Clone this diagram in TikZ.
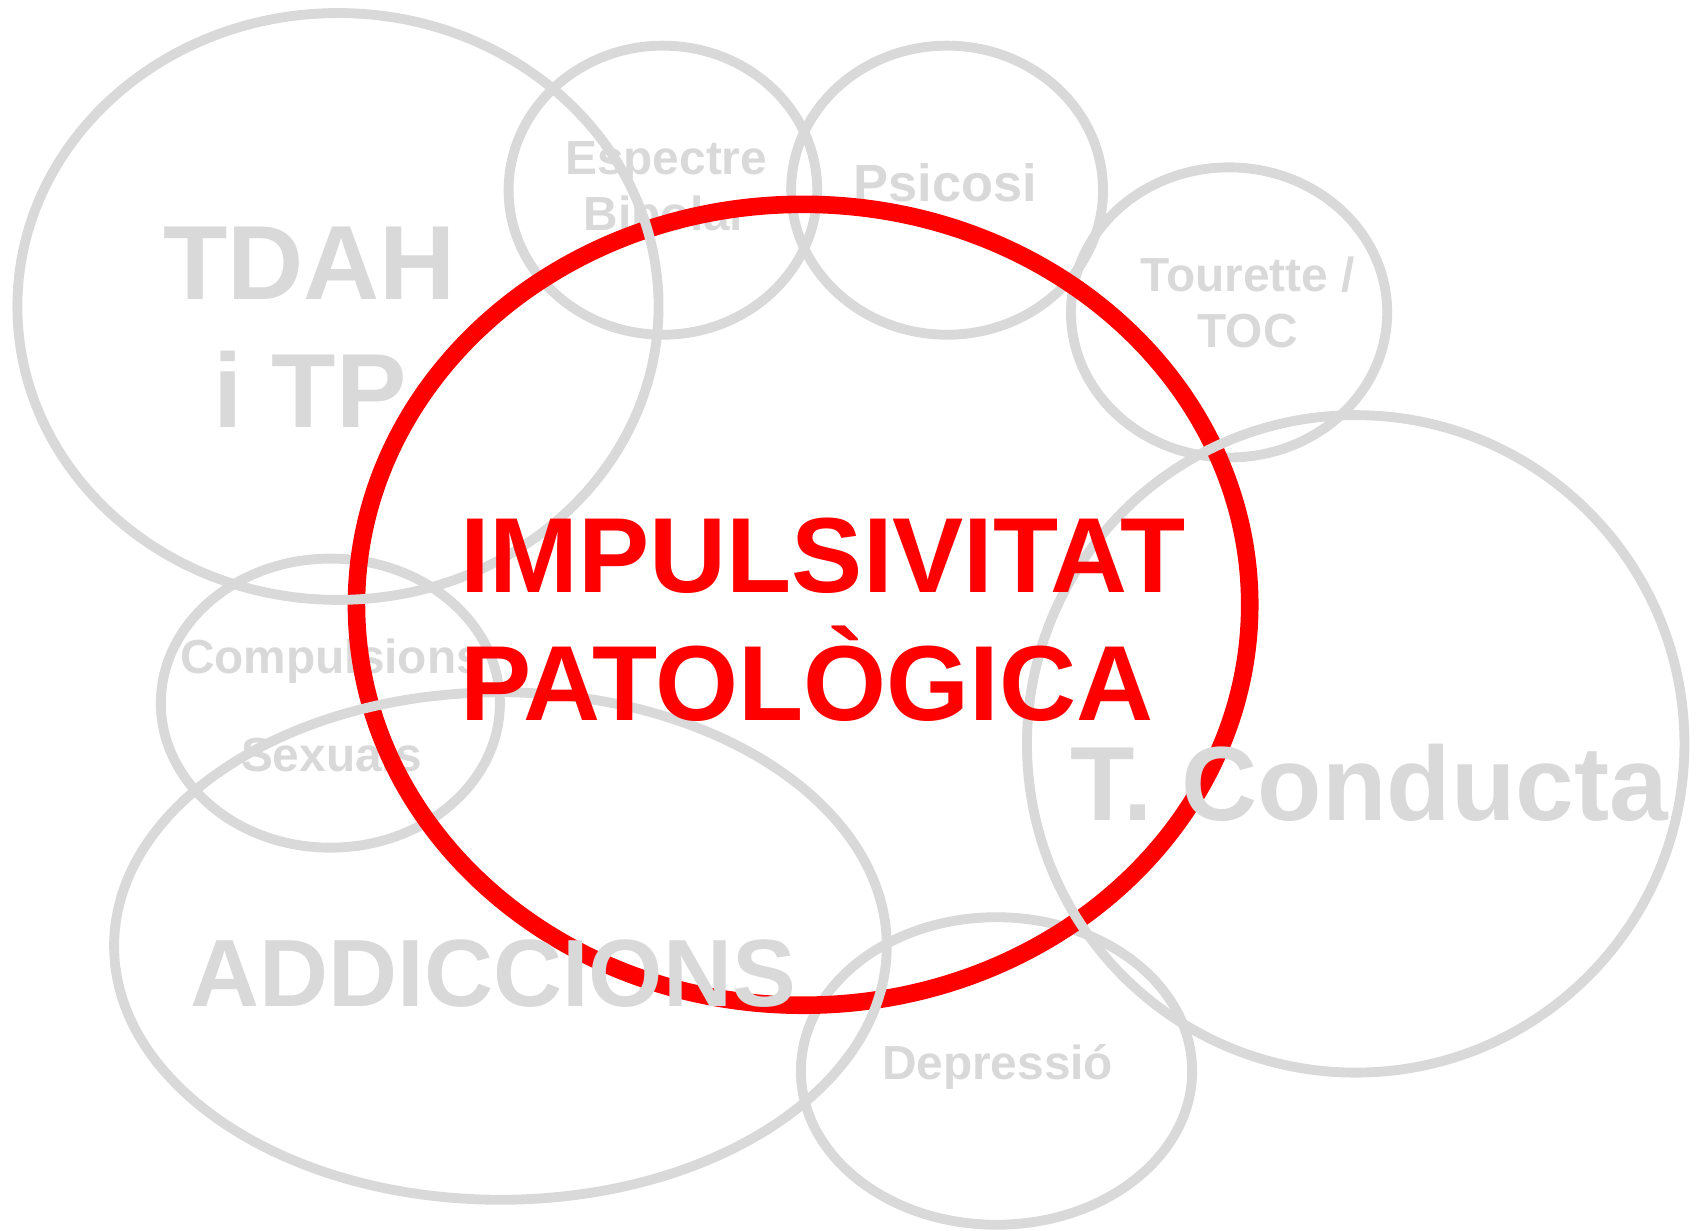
\documentclass[tikz,border=0pt]{standalone}
\usepackage{fontspec}
\setmainfont{Liberation Sans}
\usepackage{tikz}
\definecolor{ringgray}{RGB}{217,217,217}
\definecolor{impred}{RGB}{255,0,0}

\begin{document}
\begin{tikzpicture}[
            x=0.021735cm, y=-0.021735cm,
                ring/.style = {draw=ringgray, line width=5.6pt},
                redRing/.style = {draw=impred, line width=10pt},
                base/.style = {inner sep=0pt, text=ringgray, font=\bfseries},
                smallLabel/.style = {base, align=center,
                            font=\fontsize{27.2}{32}\selectfont\bfseries},
                bigLabel/.style = {base, align=center,
                            font=\fontsize{60}{72.5}\selectfont\bfseries},
                addLabel/.style = {base, font=\fontsize{54.4}{60}\selectfont\bfseries},
                mainLabel/.style = {base, text=impred, align=left,
                            font=\fontsize{60.7}{73}\selectfont\bfseries}]
            \useasboundingbox (0,0) rectangle (1568,1132);
            \draw[ring] (610,175) ellipse [x radius=142, y radius=133];
            \draw[ring] (871.5,175) ellipse [x radius=143.5, y radius=133];
            \draw[ring] (1131,287.5) ellipse [x radius=145.5, y radius=133.5];
            \draw[ring] (304,647) ellipse [x radius=156, y radius=133];
            \draw[ring] (917,985.5) ellipse [x radius=180, y radius=141.5];
            \node (EspectreBipolar) [smallLabel, anchor=base] at (613,212) {Espectre\\Bipolar};
            \node (Psicosi) [smallLabel, anchor=base,
                font=\fontsize{29.8}{32}\selectfont\bfseries] at (870,185) {Psicosi};
            \node (TouretteTOC) [smallLabel, anchor=base] at (1148,320) {Tourette /\\TOC};
            \node (CompulsionsSexuals) [smallLabel, anchor=base,
                font=\fontsize{27.2}{55.7}\selectfont\bfseries] at (305,710) {Compulsions\\Sexuals};
            \node (Depressio) [smallLabel, anchor=base] at (918,993) {Depressió};
            \draw[redRing] (739,556.5) ellipse [x radius=411, y radius=368.5];
            \draw[ring] (311,282) ellipse [x radius=295, y radius=270];
            \draw[ring] (460.5,870.5) ellipse [x radius=355.5, y radius=233.5];
            \draw[ring] (1247.5,684.5) ellipse [x radius=302.5, y radius=302.5];
            \node (TDAHiTP) [bigLabel, anchor=base] at (285,393) {TDAH\\i TP};
            \node (Addiccions) [addLabel, anchor=base] at (454,926) {ADDICCIONS};
            \node (TConducta) [bigLabel, anchor=base] at (1260,755) {T. Conducta};
            \node (Impulsivitat) [mainLabel, anchor=base west] at (423,663) {IMPULSIVITAT\\PATOLÒGICA};
        \end{tikzpicture}
\end{document}
